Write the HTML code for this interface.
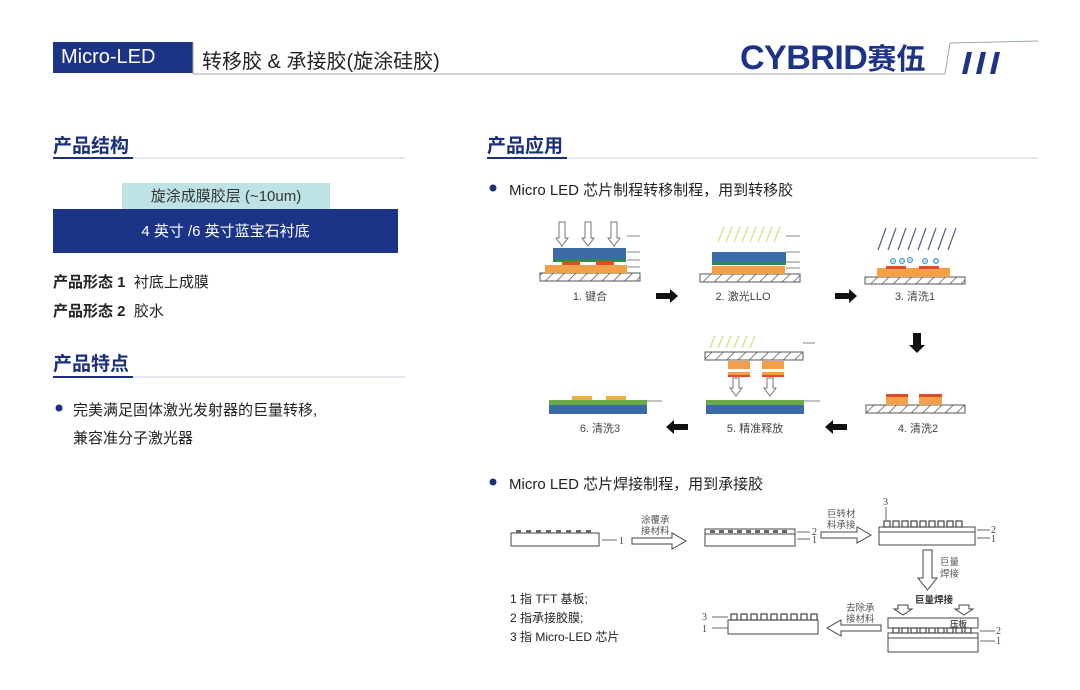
<!DOCTYPE html>
<html><head><meta charset="utf-8">
<style>
body{margin:0;width:1080px;height:690px;background:#fff;position:relative;overflow:hidden;font-family:"Liberation Sans","Noto Sans CJK SC",sans-serif;color:#222}
.a{position:absolute;white-space:nowrap}
.h{font-size:19px;color:#1c2f7a;font-weight:bold}
</style></head><body>
<svg class="a" style="left:0;top:0" width="1080" height="690">
<defs>
<pattern id="ht" width="8" height="8" patternUnits="userSpaceOnUse" patternTransform="rotate(45)"><rect width="8" height="8" fill="#fff"/><line x1="0" y1="0" x2="0" y2="8" stroke="#555" stroke-width="1.5"/></pattern>
</defs>
<!-- header -->
<rect x="53" y="42" width="140" height="31" fill="#1d3486"/>
<line x1="193" y1="74" x2="945" y2="74" stroke="#9aa" stroke-width="1"/>
<line x1="193" y1="42" x2="193" y2="74" stroke="#9aa"/>
<line x1="945" y1="74" x2="950" y2="43" stroke="#9aa"/>
<line x1="950" y1="43" x2="1038" y2="41" stroke="#9aa"/>
<g fill="#1d3486"><polygon points="962,74 967,52 972,52 967,74"/><polygon points="976,74 981,52 986,52 981,74"/><polygon points="990,74 995,52 1000,52 995,74"/></g>
<!-- section lines -->
<line x1="53" y1="158" x2="405" y2="158" stroke="#ccd" stroke-width="1"/><line x1="53" y1="158" x2="133" y2="158" stroke="#1c2f7a" stroke-width="2"/>
<line x1="53" y1="377" x2="405" y2="377" stroke="#ccd" stroke-width="1"/><line x1="53" y1="377" x2="133" y2="377" stroke="#1c2f7a" stroke-width="2"/>
<line x1="487" y1="158" x2="1038" y2="158" stroke="#ccd" stroke-width="1"/><line x1="487" y1="158" x2="567" y2="158" stroke="#1c2f7a" stroke-width="2"/>
<rect x="122" y="183" width="208" height="26" fill="#bfe2e4"/>
<rect x="53" y="209" width="345" height="44" fill="#1c3488"/>
<circle cx="59" cy="408" r="3.5" fill="#1c2f7a"/>
<circle cx="493" cy="188" r="3.5" fill="#1c2f7a"/>
<circle cx="493" cy="482" r="3.5" fill="#1c2f7a"/>
<!-- diagram 1 -->
<g font-size="11" fill="#444" text-anchor="middle">
<rect x="540" y="273" width="100" height="8" fill="url(#ht)" stroke="#555"/>
<rect x="545" y="265" width="82" height="8" fill="#f3a04a"/>
<rect x="553" y="248" width="73" height="11" fill="#3a6aa8"/>
<rect x="553" y="259" width="73" height="3" fill="#2e8a4a"/>
<rect x="562" y="261" width="18" height="4" fill="#e04a2a"/><rect x="596" y="261" width="18" height="4" fill="#e04a2a"/>
<g fill="#fff" stroke="#777"><path d="M559,222h6v16h3l-6,8l-6,-8h3z"/><path d="M585,222h6v16h3l-6,8l-6,-8h3z"/><path d="M611,222h6v16h3l-6,8l-6,-8h3z"/></g>
<text x="590" y="300">1. 键合</text>
<rect x="700" y="274" width="100" height="8" fill="url(#ht)" stroke="#555"/>
<rect x="712" y="266" width="73" height="8" fill="#f3a04a"/>
<rect x="712" y="252" width="74" height="11" fill="#3a6aa8"/>
<rect x="712" y="262" width="74" height="3" fill="#2e8a4a"/>
<g stroke="#d8e08a" stroke-width="1.3"><path d="M718,242l6,-15M726,242l6,-15M734,242l6,-15M742,242l6,-15M750,242l6,-15M758,242l6,-15M766,242l6,-15M774,242l6,-15"/></g>
<text x="743" y="300">2. 激光LLO</text>
<rect x="865" y="277" width="100" height="7" fill="url(#ht)" stroke="#555"/>
<rect x="877" y="268" width="73" height="9" fill="#f3a04a"/>
<rect x="886" y="266" width="20" height="3" fill="#e04a2a"/><rect x="919" y="266" width="20" height="3" fill="#e04a2a"/>
<g stroke="#5a6a85" stroke-width="1.3"><path d="M878,250l8,-22M888,250l8,-22M898,250l8,-22M908,250l8,-22M918,250l8,-22M928,250l8,-22M938,250l8,-22M948,250l8,-22"/></g>
<g fill="#bfe0f0" stroke="#4a90c0"><circle cx="893" cy="261" r="2.5"/><circle cx="902" cy="261" r="2.5"/><circle cx="910" cy="260" r="2.5"/><circle cx="925" cy="261" r="2.5"/><circle cx="936" cy="261" r="2.5"/></g>
<text x="915" y="300">3. 清洗1</text>
<g fill="#111"><path d="M656,293h14v-4l8,7l-8,7v-4h-14z"/><path d="M835,293h14v-4l8,7l-8,7v-4h-14z"/><path d="M913,333h8v12h4l-8,8l-8,-8h4z"/><path d="M847,424h-14v-4l-8,7l8,7v-4h14z"/><path d="M688,424h-14v-4l-8,7l8,7v-4h14z"/></g>
<rect x="866" y="405" width="99" height="8" fill="url(#ht)" stroke="#555"/>
<rect x="886" y="394" width="22" height="11" fill="#f3a04a"/><rect x="919" y="394" width="23" height="11" fill="#f3a04a"/>
<rect x="886" y="394" width="22" height="3" fill="#e04a2a"/><rect x="919" y="394" width="23" height="3" fill="#e04a2a"/>
<text x="918" y="432">4. 清洗2</text>
<rect x="705" y="352" width="98" height="8" fill="url(#ht)" stroke="#555"/>
<g stroke="#d8e08a" stroke-width="1.3"><path d="M710,348l5,-12M718,348l5,-12M726,348l5,-12M734,348l5,-12M742,348l5,-12M750,348l5,-12"/></g>
<rect x="728" y="361" width="22" height="8" fill="#f3a04a"/><rect x="762" y="361" width="22" height="8" fill="#f3a04a"/>
<rect x="728" y="372" width="22" height="4" fill="#f3a04a"/><rect x="762" y="372" width="22" height="4" fill="#f3a04a"/>
<rect x="728" y="375" width="22" height="2" fill="#e04a2a"/><rect x="762" y="375" width="22" height="2" fill="#e04a2a"/>
<g fill="#fff" stroke="#777"><path d="M733,378h6v10h3l-6,8l-6,-8h3z"/><path d="M767,378h6v10h3l-6,8l-6,-8h3z"/></g>
<rect x="706" y="400" width="98" height="5" fill="#6aaa4a"/><rect x="706" y="405" width="98" height="9" fill="#3a6aa8"/>
<text x="755" y="432">5. 精准释放</text>
<rect x="549" y="400" width="98" height="5" fill="#6aaa4a"/><rect x="549" y="405" width="98" height="9" fill="#3a6aa8"/>
<rect x="572" y="396" width="20" height="4" fill="#e8b040"/><rect x="606" y="396" width="20" height="4" fill="#e8b040"/>
<text x="600" y="432">6. 清洗3</text>
<g stroke="#666" stroke-width="0.8"><line x1="627" y1="236" x2="640" y2="236"/><line x1="627" y1="252" x2="640" y2="252"/><line x1="627" y1="260" x2="640" y2="260"/><line x1="627" y1="267" x2="640" y2="267"/><line x1="786" y1="236" x2="800" y2="236"/><line x1="786" y1="252" x2="800" y2="252"/><line x1="786" y1="262" x2="800" y2="262"/><line x1="786" y1="268" x2="800" y2="268"/><line x1="803" y1="343" x2="815" y2="343"/><line x1="804" y1="401" x2="820" y2="401"/><line x1="647" y1="401" x2="662" y2="401"/></g>
</g>
<!-- diagram 2 -->
<g fill="#fff" stroke="#444" stroke-width="1">
<rect x="511" y="533" width="88" height="13"/>
<rect x="705" y="529" width="90" height="5"/><rect x="705" y="534" width="90" height="12"/>
<rect x="879" y="527" width="96" height="5"/><rect x="879" y="532" width="96" height="13"/>
<rect x="728" y="620" width="90" height="14"/>
<rect x="888" y="618" width="90" height="10"/><rect x="888" y="633" width="90" height="5"/><rect x="888" y="638" width="90" height="14"/>
<path d="M632,538h40v-5l14,8l-14,8v-5h-40z"/>
<path d="M821,532h36v-5l14,8l-14,8v-5h-36z"/>
<path d="M923,550h9v28h5l-9.5,12l-9.5,-12h5z"/>
<path d="M881,625h-40v-5l-14,8l14,8v-5h40z"/>
<path d="M898,605h10v4h4l-9,6l-9,-6h4z"/><path d="M959,605h10v4h4l-9,6l-9,-6h4z"/>
</g>
<g fill="#666">
<rect x="516" y="530" width="5" height="3"/><rect x="526" y="530" width="5" height="3"/><rect x="536" y="530" width="5" height="3"/><rect x="546" y="530" width="5" height="3"/><rect x="556" y="530" width="5" height="3"/><rect x="566" y="530" width="5" height="3"/><rect x="576" y="530" width="5" height="3"/><rect x="586" y="530" width="5" height="3"/>
<rect x="710" y="530" width="5" height="3"/><rect x="719" y="530" width="5" height="3"/><rect x="728" y="530" width="5" height="3"/><rect x="737" y="530" width="5" height="3"/><rect x="746" y="530" width="5" height="3"/><rect x="755" y="530" width="5" height="3"/><rect x="764" y="530" width="5" height="3"/><rect x="773" y="530" width="5" height="3"/><rect x="782" y="530" width="5" height="3"/>
</g>
<g fill="#fff" stroke="#444" stroke-width="1.2">
<rect x="884" y="521" width="6" height="6"/><rect x="893" y="521" width="6" height="6"/><rect x="902" y="521" width="6" height="6"/><rect x="911" y="521" width="6" height="6"/><rect x="920" y="521" width="6" height="6"/><rect x="929" y="521" width="6" height="6"/><rect x="938" y="521" width="6" height="6"/><rect x="947" y="521" width="6" height="6"/><rect x="956" y="521" width="6" height="6"/>
<rect x="731" y="614" width="6" height="6"/><rect x="741" y="614" width="6" height="6"/><rect x="751" y="614" width="6" height="6"/><rect x="761" y="614" width="6" height="6"/><rect x="771" y="614" width="6" height="6"/><rect x="781" y="614" width="6" height="6"/><rect x="791" y="614" width="6" height="6"/><rect x="801" y="614" width="6" height="6"/><rect x="811" y="614" width="6" height="6"/>
<rect x="893" y="628" width="6" height="5"/><rect x="902" y="628" width="6" height="5"/><rect x="911" y="628" width="6" height="5"/><rect x="920" y="628" width="6" height="5"/><rect x="929" y="628" width="6" height="5"/><rect x="938" y="628" width="6" height="5"/><rect x="947" y="628" width="6" height="5"/><rect x="956" y="628" width="6" height="5"/><rect x="965" y="628" width="6" height="5"/>
</g>
<g stroke="#444" stroke-width="0.8"><line x1="602" y1="540" x2="617" y2="540"/><line x1="797" y1="532" x2="810" y2="532"/><line x1="797" y1="539" x2="810" y2="539"/><line x1="977" y1="530" x2="990" y2="530"/><line x1="977" y1="538" x2="990" y2="538"/><line x1="886" y1="507" x2="886" y2="520"/><line x1="712" y1="617" x2="728" y2="617"/><line x1="712" y1="628" x2="728" y2="628"/><line x1="980" y1="631" x2="995" y2="631"/><line x1="980" y1="641" x2="995" y2="641"/></g>
<g font-family="Liberation Serif,serif" font-size="10" fill="#444"><text x="619" y="544">1</text><text x="812" y="535">2</text><text x="812" y="543">1</text><text x="991" y="533">2</text><text x="991" y="542">1</text><text x="883" y="505">3</text><text x="702" y="620">3</text><text x="702" y="632">1</text><text x="996" y="634">2</text><text x="996" y="644">1</text></g>
<g font-size="9.5" fill="#555" font-family="Liberation Sans,Noto Sans CJK SC,sans-serif"><text x="641" y="523">涂覆承</text><text x="641" y="534">接材料</text><text x="827" y="517">巨转材</text><text x="827" y="528">料承接</text><text x="940" y="565">巨量</text><text x="940" y="577">焊接</text><text x="846" y="611">去除承</text><text x="846" y="622">接材料</text><text x="950" y="627" font-weight="bold" font-size="8.5">压板</text><text x="915" y="603" font-weight="bold" fill="#333">巨量焊接</text></g>
</svg>
<div class="a" style="left:61px;top:46px;font-size:20px;color:#fff;font-weight:500">Micro-LED</div>
<div class="a" style="left:202px;top:45px;font-size:20px;color:#222">转移胶 &amp; 承接胶(旋涂硅胶)</div>
<div class="a" style="left:740px;top:36px;font-size:34px;color:#1d3486;font-weight:bold;letter-spacing:-0.5px">CYBRID<span style="font-size:29px;letter-spacing:0">赛伍</span></div>
<div class="a h" style="left:53px;top:131px">产品结构</div>
<div class="a h" style="left:53px;top:349px">产品特点</div>
<div class="a h" style="left:487px;top:131px">产品应用</div>
<div class="a" style="left:122px;top:185px;width:208px;text-align:center;font-size:15px;color:#333">旋涂成膜胶层 (~10um)</div>
<div class="a" style="left:53px;top:220px;width:345px;text-align:center;font-size:15px;color:#fff">4 英寸 /6 英寸蓝宝石衬底</div>
<div class="a" style="left:53px;top:271px;font-size:15px"><b>产品形态 1</b>&nbsp; 衬底上成膜</div>
<div class="a" style="left:53px;top:300px;font-size:15px"><b>产品形态 2</b>&nbsp; 胶水</div>
<div class="a" style="left:73px;top:399px;font-size:15px">完美满足固体激光发射器的巨量转移,</div>
<div class="a" style="left:73px;top:427px;font-size:15px">兼容准分子激光器</div>
<div class="a" style="left:509px;top:179px;font-size:15px">Micro LED 芯片制程转移制程，用到转移胶</div>
<div class="a" style="left:509px;top:473px;font-size:15px">Micro LED 芯片焊接制程，用到承接胶</div>
<div class="a" style="left:510px;top:590px;font-size:12px;line-height:19px">1 指 TFT 基板;<br>2 指承接胶膜;<br>3 指 Micro-LED 芯片</div>
</body></html>
